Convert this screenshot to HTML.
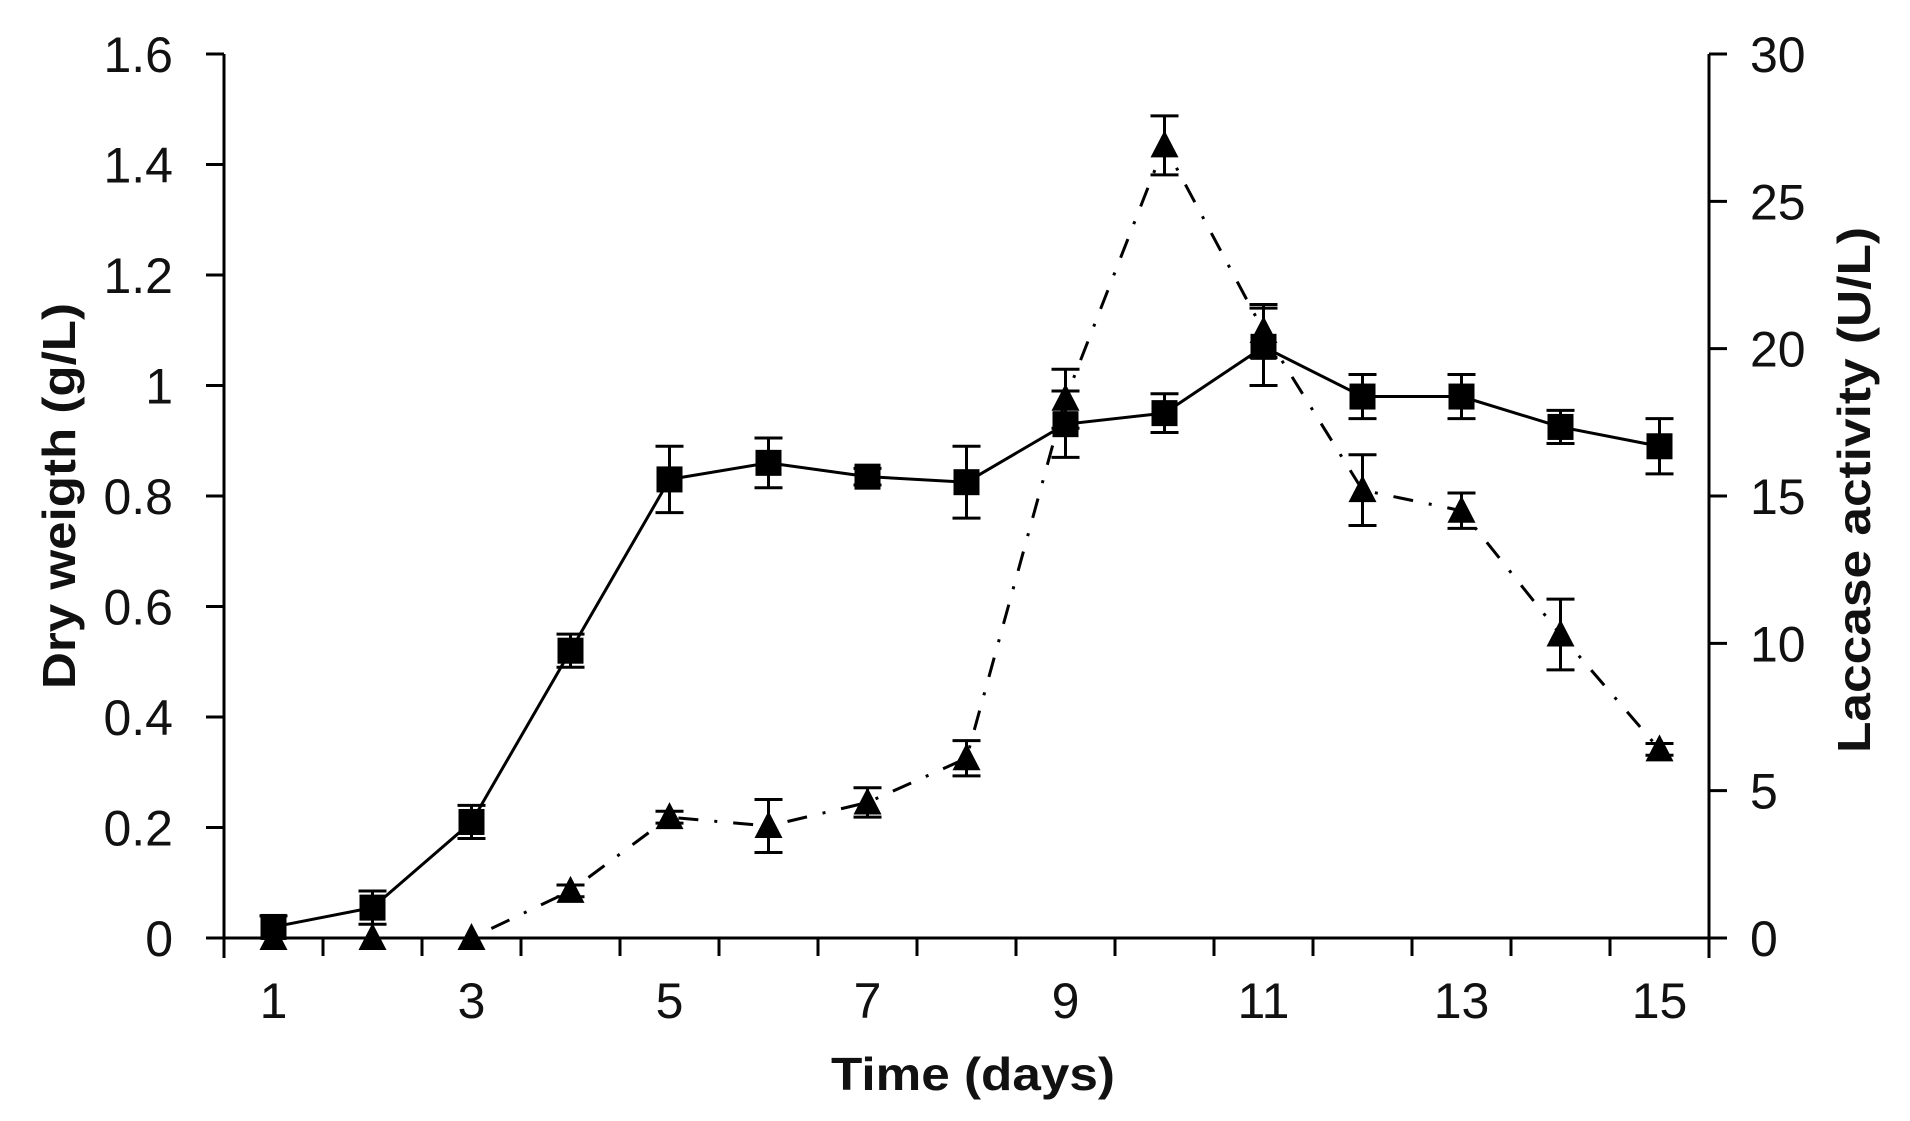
<!DOCTYPE html>
<html><head><meta charset="utf-8"><style>
html,body{margin:0;padding:0;background:#fff;}
svg{display:block;font-family:"Liberation Sans",Arial,sans-serif;}
</style></head><body>
<svg id="chart" width="1910" height="1121" viewBox="0 0 1910 1121" xmlns="http://www.w3.org/2000/svg">
<g id="axes"></g>
<g id="series"></g>
<text x="0" y="0" transform="translate(75,496) rotate(-90)" text-anchor="middle" font-size="46" font-weight="bold" textLength="386" lengthAdjust="spacingAndGlyphs" fill="#111">Dry weigth (g/L)</text>
<text x="0" y="0" transform="translate(1870,490) rotate(-90)" text-anchor="middle" font-size="46" font-weight="bold" textLength="526" lengthAdjust="spacingAndGlyphs" fill="#111">Laccase activity (U/L)</text>
<text x="973" y="1090" text-anchor="middle" font-size="46" font-weight="bold" textLength="284" lengthAdjust="spacingAndGlyphs" fill="#111">Time (days)</text>
</svg>
<script>
const days = [1,2,3,4,5,6,7,8,9,10,11,12,13,14,15];
const xTickLabels = ["1","3","5","7","9","11","13","15"];
const leftTicks = [0,0.2,0.4,0.6,0.8,1,1.2,1.4,1.6];
const leftTickLabels = ["0","0.2","0.4","0.6","0.8","1","1.2","1.4","1.6"];
const rightTicks = [0,5,10,15,20,25,30];
const dryWeight = [0.02,0.055,0.21,0.52,0.83,0.86,0.835,0.825,0.93,0.95,1.07,0.98,0.98,0.925,0.89];
const dryWeightErr = [0.02,0.03,0.03,0.03,0.06,0.045,0.015,0.065,0.06,0.035,0.07,0.04,0.04,0.03,0.05];
const laccase = [0,0,0,1.6,4.1,3.8,4.6,6.1,18.3,26.9,20.6,15.2,14.5,10.3,6.4];
const laccaseErr = [0,0,0,0.2,0.2,0.9,0.5,0.6,1.0,1.0,0.9,1.2,0.6,1.2,0.2];

const NS = "http://www.w3.org/2000/svg";
const L = 224, R = 1709, T = 54, B = 938;
const step = (R - L) / days.length;
function xs(d){ return L + (d - 0.5) * step; }
function yl(v){ return B - v / 1.6 * (B - T); }
function yr(v){ return B - v / 30 * (B - T); }
function mk(tag, attrs, parent){
  const e = document.createElementNS(NS, tag);
  for (const k in attrs) e.setAttribute(k, attrs[k]);
  parent.appendChild(e); return e;
}
const axes = document.getElementById('axes');
const series = document.getElementById('series');
const ink = "#000";

let a = mk('line',{x1:L,y1:T,x2:L,y2:B+20,stroke:ink,'stroke-width':3},axes);


a = mk('line',{x1:R,y1:T,x2:R,y2:B+20,stroke:ink,'stroke-width':3},axes);


a = mk('line',{x1:L-18,y1:B,x2:R+18,y2:B,stroke:ink,'stroke-width':3},axes);



leftTicks.forEach((v,i)=>{
  const y = yl(v);
  const t = mk('line',{x1:L-18,y1:y,x2:L,y2:y,stroke:ink,'stroke-width':3},axes);
  
  
  const tx = mk('text',{x:173,y:y+18,'text-anchor':'end','font-size':50,fill:'#111'},axes);
  tx.textContent = leftTickLabels[i];
  
  
});
rightTicks.forEach(v=>{
  const y = yr(v);
  const t = mk('line',{x1:R,y1:y,x2:R+18,y2:y,stroke:ink,'stroke-width':3},axes);
  
  
  const tx = mk('text',{x:1750,y:y+18,'text-anchor':'start','font-size':50,fill:'#111'},axes);
  tx.textContent = String(v);
  
  
});
for (let i = 1; i < days.length; i++){
  const x = L + i * step;
  const t = mk('line',{x1:x,y1:B,x2:x,y2:B+18,stroke:ink,'stroke-width':3},axes);
  
  
}
xTickLabels.forEach(s=>{
  const tx = mk('text',{x:xs(+s),y:1018,'text-anchor':'middle','font-size':50,fill:'#111'},axes);
  tx.textContent = s;
  
  
});

function errBar(x, y1, y2, name){
  const g = mk('g',{stroke:ink,'stroke-width':3},series);
  
  
  mk('line',{x1:x,y1:y1,x2:x,y2:y2},g);
  mk('line',{x1:x-14,y1:y1,x2:x+14,y2:y1},g);
  mk('line',{x1:x-14,y1:y2,x2:x+14,y2:y2},g);
}

const lp = days.map((d,i)=>xs(d)+','+yr(laccase[i])).join(' ');
const ll = mk('polyline',{points:lp,fill:'none',stroke:ink,'stroke-width':3,'stroke-dasharray':'20 16 3 16'},series);


const dp = days.map((d,i)=>xs(d)+','+yl(dryWeight[i])).join(' ');
const dl = mk('polyline',{points:dp,fill:'none',stroke:ink,'stroke-width':3},series);



days.forEach((d,i)=>{
  const x = xs(d);
  if (laccaseErr[i] > 0) errBar(x, yr(laccase[i]+laccaseErr[i]), yr(laccase[i]-laccaseErr[i]), 'laccase-error-bar');
  const y = yr(laccase[i]);
  const tri = mk('polygon',{points:`${x},${y-15} ${x-14},${y+12} ${x+14},${y+12}`,fill:ink},series);
  
  
});
days.forEach((d,i)=>{
  const x = xs(d);
  errBar(x, yl(dryWeight[i]+dryWeightErr[i]), yl(dryWeight[i]-dryWeightErr[i]), 'dry-weight-error-bar');
  const y = yl(dryWeight[i]);
  const sq = mk('rect',{x:x-13,y:y-13,width:26,height:26,fill:ink},series);
  
  
});
</script>
</body></html>
